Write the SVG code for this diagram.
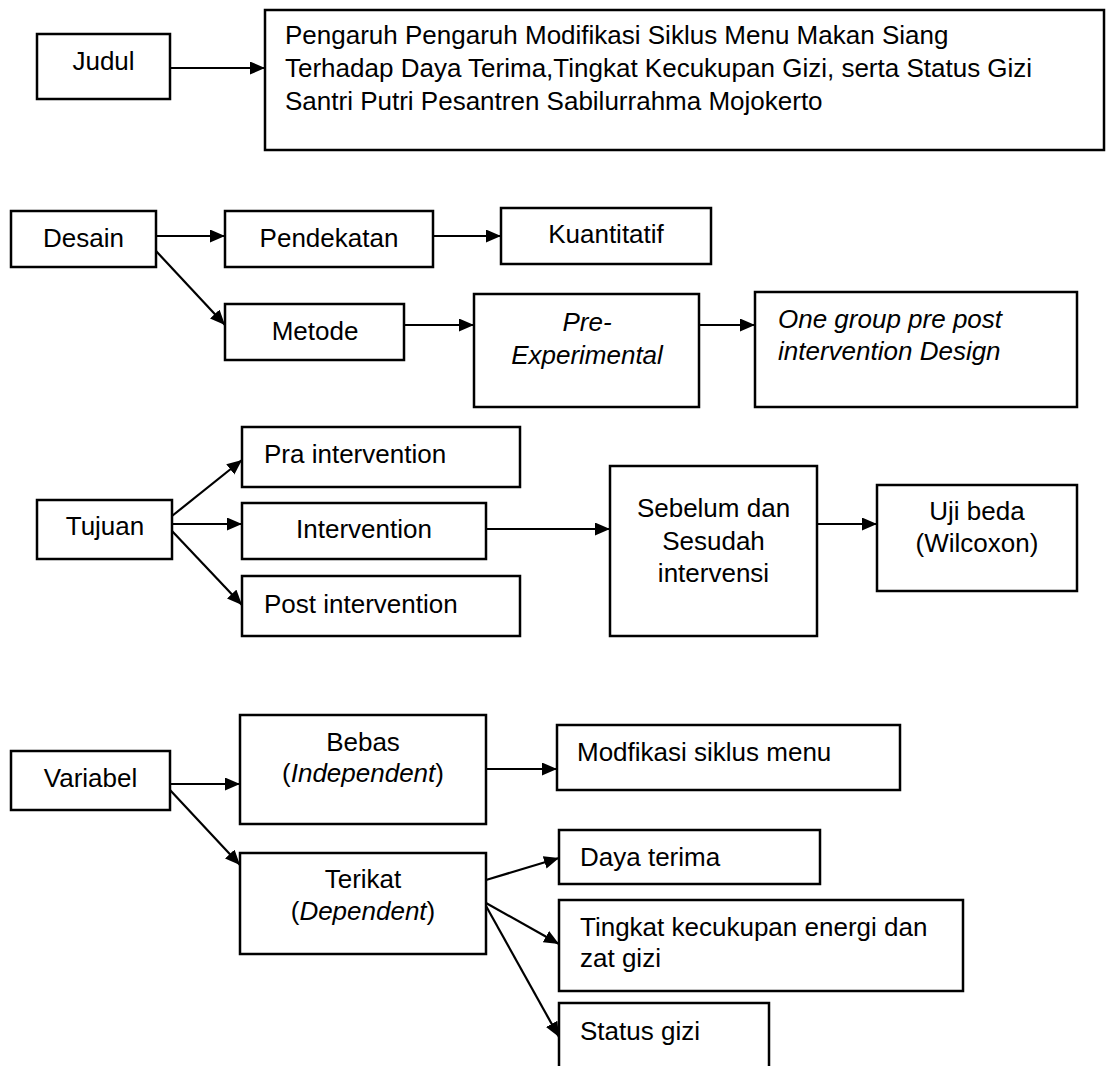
<svg xmlns="http://www.w3.org/2000/svg" width="1109" height="1066" viewBox="0 0 1109 1066">
<defs>
<marker id="ah" markerUnits="userSpaceOnUse" markerWidth="17" markerHeight="14" refX="15" refY="6.5" orient="auto">
<path d="M0,0 L15,6.5 L0,13 z" fill="#000"/>
</marker>
<style>
rect.box{fill:#fff;stroke:#000;stroke-width:2.5}
text{font-family:"Liberation Sans",Arial,sans-serif;font-size:26px;fill:#000}
.c{text-anchor:middle}
.i{font-style:italic}
#connectors line{stroke:#000;stroke-width:2.2;marker-end:url(#ah)}
</style>
</defs>
<rect width="1109" height="1066" fill="#fff"/>
<g id="connectors">
<line x1="170" y1="68" x2="265" y2="68"/>
<line x1="156" y1="236" x2="225" y2="236"/>
<line x1="433" y1="236" x2="501" y2="236"/>
<line x1="156" y1="251" x2="225" y2="325"/>
<line x1="404" y1="325" x2="474" y2="325"/>
<line x1="699" y1="325" x2="755" y2="325"/>
<line x1="172" y1="516" x2="242" y2="460"/>
<line x1="172" y1="524" x2="242" y2="524"/>
<line x1="172" y1="531" x2="242" y2="605"/>
<line x1="486" y1="529" x2="610" y2="529"/>
<line x1="817" y1="524" x2="877" y2="524"/>
<line x1="170" y1="784" x2="240" y2="784"/>
<line x1="486" y1="769" x2="557" y2="769"/>
<line x1="170" y1="790" x2="240" y2="865"/>
<line x1="486" y1="880" x2="559" y2="858"/>
<line x1="486" y1="903" x2="559" y2="944"/>
<line x1="486" y1="906" x2="559" y2="1037"/>
</g>
<g id="judul"><rect class="box" x="37" y="34" width="133" height="65"/><text class="c" x="103.5" y="70">Judul</text></g>
<g id="judul-isi"><rect class="box" x="265" y="10" width="839" height="140"/>
<text x="285" y="44">Pengaruh Pengaruh Modifikasi Siklus Menu Makan Siang</text>
<text x="285" y="77">Terhadap Daya Terima,Tingkat Kecukupan Gizi, serta Status Gizi</text>
<text x="285" y="110">Santri Putri Pesantren Sabilurrahma Mojokerto</text></g>
<g id="desain"><rect class="box" x="11" y="211" width="145" height="56"/><text class="c" x="83.5" y="247">Desain</text></g>
<g id="pendekatan"><rect class="box" x="225" y="211" width="208" height="56"/><text class="c" x="329" y="247">Pendekatan</text></g>
<g id="kuantitatif"><rect class="box" x="501" y="208" width="210" height="56"/><text class="c" x="606" y="243">Kuantitatif</text></g>
<g id="metode"><rect class="box" x="225" y="304" width="179" height="56"/><text class="c" x="315" y="340">Metode</text></g>
<g id="pre-experimental"><rect class="box" x="474" y="294" width="225" height="113"/><text class="c i" x="587" y="331">Pre-</text><text class="c i" x="587" y="364">Experimental</text></g>
<g id="one-group"><rect class="box" x="755" y="292" width="322" height="115"/><text class="i" x="778" y="328">One group pre post</text><text class="i" x="778" y="360">intervention Design</text></g>
<g id="tujuan"><rect class="box" x="37" y="500" width="135" height="59"/><text class="c" x="105" y="535">Tujuan</text></g>
<g id="pra"><rect class="box" x="242" y="427" width="278" height="60"/><text x="264" y="463">Pra intervention</text></g>
<g id="intervention"><rect class="box" x="242" y="503" width="244" height="56"/><text class="c" x="364" y="538">Intervention</text></g>
<g id="post"><rect class="box" x="242" y="576" width="278" height="60"/><text x="264" y="613">Post intervention</text></g>
<g id="sebelum"><rect class="box" x="610" y="466" width="207" height="170"/><text class="c" x="713.5" y="517">Sebelum dan</text><text class="c" x="713.5" y="549.5">Sesudah</text><text class="c" x="713.5" y="582">intervensi</text></g>
<g id="uji"><rect class="box" x="877" y="485" width="200" height="106"/><text class="c" x="977" y="520">Uji beda</text><text class="c" x="977" y="552">(Wilcoxon)</text></g>
<g id="variabel"><rect class="box" x="11" y="751" width="159" height="59"/><text class="c" x="90.5" y="787">Variabel</text></g>
<g id="bebas"><rect class="box" x="240" y="715" width="246" height="109"/><text class="c" x="363" y="751">Bebas</text><text class="c" x="363" y="782">(<tspan class="i">Independent</tspan>)</text></g>
<g id="modifikasi"><rect class="box" x="557" y="725" width="343" height="65"/><text x="577" y="761">Modfikasi siklus menu</text></g>
<g id="terikat"><rect class="box" x="240" y="853" width="246" height="101"/><text class="c" x="363" y="888">Terikat</text><text class="c" x="363" y="920">(<tspan class="i">Dependent</tspan>)</text></g>
<g id="daya"><rect class="box" x="559" y="830" width="261" height="54"/><text x="580" y="866">Daya terima</text></g>
<g id="tingkat"><rect class="box" x="559" y="900" width="404" height="91"/><text x="580" y="936">Tingkat kecukupan energi dan</text><text x="580" y="967">zat gizi</text></g>
<g id="status"><rect class="box" x="559" y="1003" width="210" height="80"/><text x="580" y="1040">Status gizi</text></g>
</svg>
